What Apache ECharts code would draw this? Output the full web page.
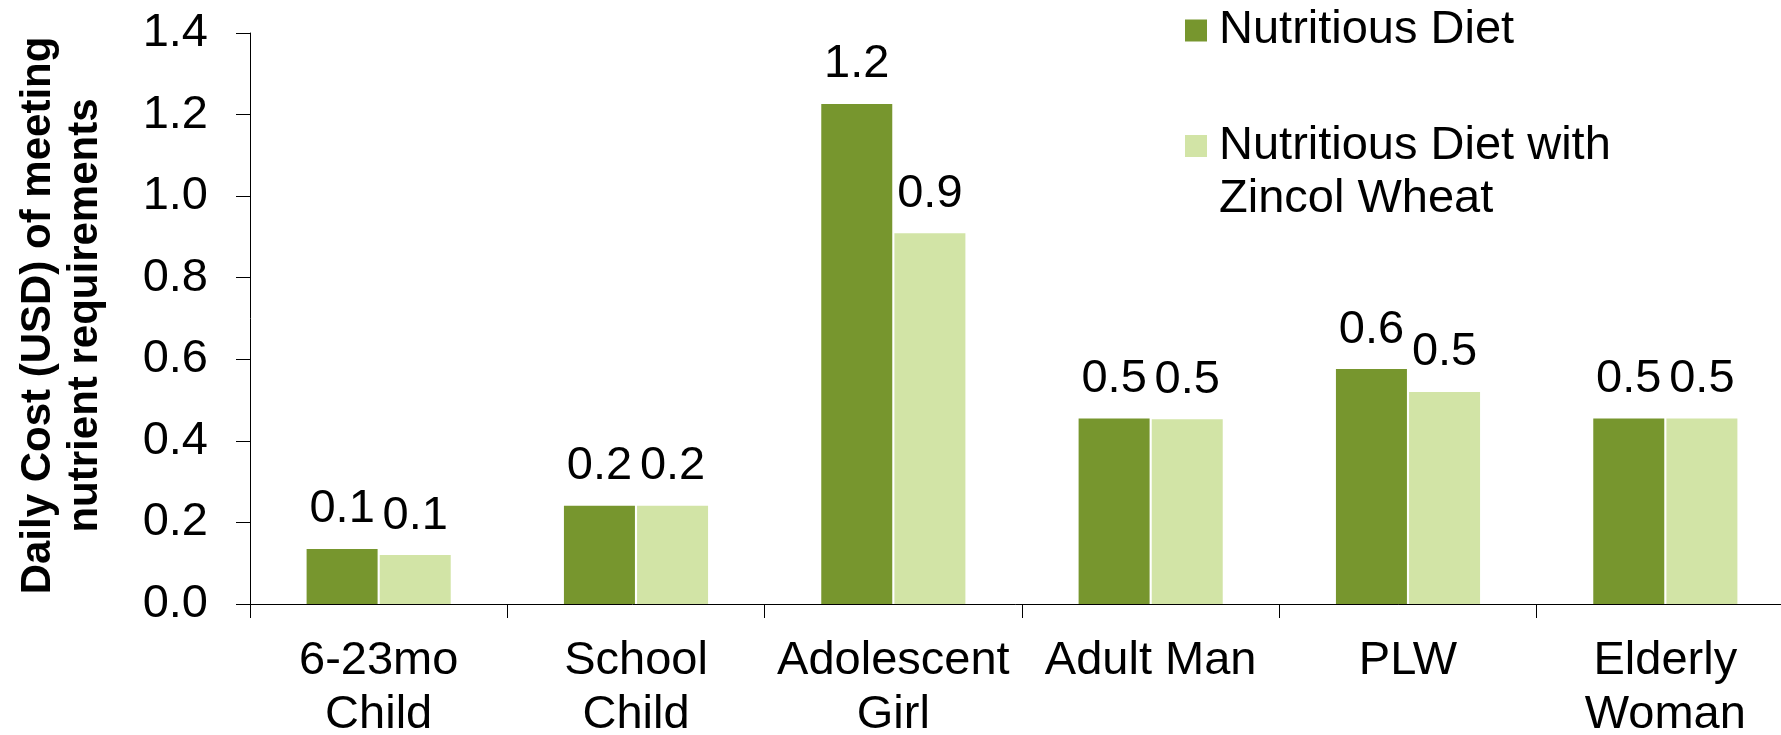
<!DOCTYPE html>
<html>
<head>
<meta charset="utf-8">
<title>Daily cost of nutritious diet</title>
<script src="https://cdn.jsdelivr.net/npm/echarts@6/dist/echarts.min.js"></script>
<style>
    html, body { margin: 0; padding: 0; background: #fff; }
    #contain { width: 1781px; height: 735px; }
</style>
</head>
<body>
<div id="contain"></div>
<script>
// 数据
var categories = ['6-23mo\nChild', 'School\nChild', 'Adolescent\nGirl', 'Adult Man', 'PLW', 'Elderly\nWoman'];
var nutritiousDiet = [0.135, 0.241, 1.226, 0.455, 0.576, 0.455];
var zincolWheatDiet = [0.12, 0.241, 0.909, 0.453, 0.52, 0.455];
var seriesNames = ['Nutritious Diet', 'Nutritious Diet with Zincol Wheat'];
var yTicks = [0, 0.2, 0.4, 0.6, 0.8, 1.0, 1.2, 1.4];

var font = "'Liberation Sans', Arial, sans-serif";
var darkGreen = '#77962e';
var lightGreen = '#d2e4a6';

var barLabel = {
    show: true,
    position: 'top',
    distance: 16,
    color: '#000',
    fontFamily: font,
    fontSize: 47,
    lineHeight: 47,
    formatter: function (p) {
        return p.value.toFixed(1);
    }
};

var option = {
    backgroundColor: '#fff',
    animation: false,
    grid: {
        left: 250,
        right: -13,
        top: 33,
        bottom: 131,
        outerBoundsMode: 'none'
    },
    legend: [{
        data: [seriesNames[0]],
        left: 1185,
        top: 4,
        padding: 0,
        icon: 'rect',
        itemWidth: 22,
        itemHeight: 22,
        selectedMode: false,
        textStyle: {
            color: '#000',
            fontFamily: font,
            fontSize: 47,
            lineHeight: 53,
            padding: [0, 0, 0, 7]
        }
    }, {
        data: [seriesNames[1]],
        left: 1185,
        top: 66.5,
        padding: 0,
        icon: 'rect',
        itemWidth: 22,
        itemHeight: 22,
        selectedMode: false,
        // 首行留空，让第一行文字与色块对齐
        formatter: function (name) {
            return '\nNutritious Diet with\nZincol Wheat';
        },
        textStyle: {
            color: '#000',
            fontFamily: font,
            fontSize: 47,
            lineHeight: 53,
            padding: [0, 0, 0, 7]
        }
    }],
    xAxis: {
        type: 'category',
        data: categories,
        axisLine: { lineStyle: { color: '#000', width: 1 } },
        axisTick: { show: true, length: 14, lineStyle: { color: '#000' } },
        axisLabel: {
            color: '#000',
            fontFamily: font,
            fontSize: 47,
            lineHeight: 54,
            margin: 30,
            interval: 0
        },
        splitLine: { show: false }
    },
    yAxis: {
        type: 'value',
        min: yTicks[0],
        max: yTicks[yTicks.length - 1],
        interval: 0.2,
        name: 'Daily Cost (USD) of meeting\nnutrient requirements',
        nameLocation: 'middle',
        nameGap: 141,
        nameTextStyle: {
            color: '#000',
            fontFamily: font,
            fontSize: 42,
            fontWeight: 'bold',
            lineHeight: 47,
            padding: [0, 0, 0, 6]
        },
        axisLine: { show: true, lineStyle: { color: '#000', width: 1 } },
        axisTick: { show: true, length: 14, lineStyle: { color: '#000' } },
        axisLabel: {
            color: '#000',
            fontFamily: font,
            fontSize: 47,
            margin: 42,
            formatter: function (v) {
                return v.toFixed(1);
            }
        },
        splitLine: { show: false }
    },
    series: [{
        name: seriesNames[0],
        type: 'bar',
        data: nutritiousDiet,
        barWidth: 71,
        barGap: '3%',
        itemStyle: { color: darkGreen },
        label: barLabel
    }, {
        name: seriesNames[1],
        type: 'bar',
        data: zincolWheatDiet,
        barWidth: 71,
        barGap: '3%',
        itemStyle: { color: lightGreen },
        label: barLabel
    }]
};

var myChart = echarts.init(document.getElementById('contain'));
myChart.setOption(option);
</script>
</body>
</html>
